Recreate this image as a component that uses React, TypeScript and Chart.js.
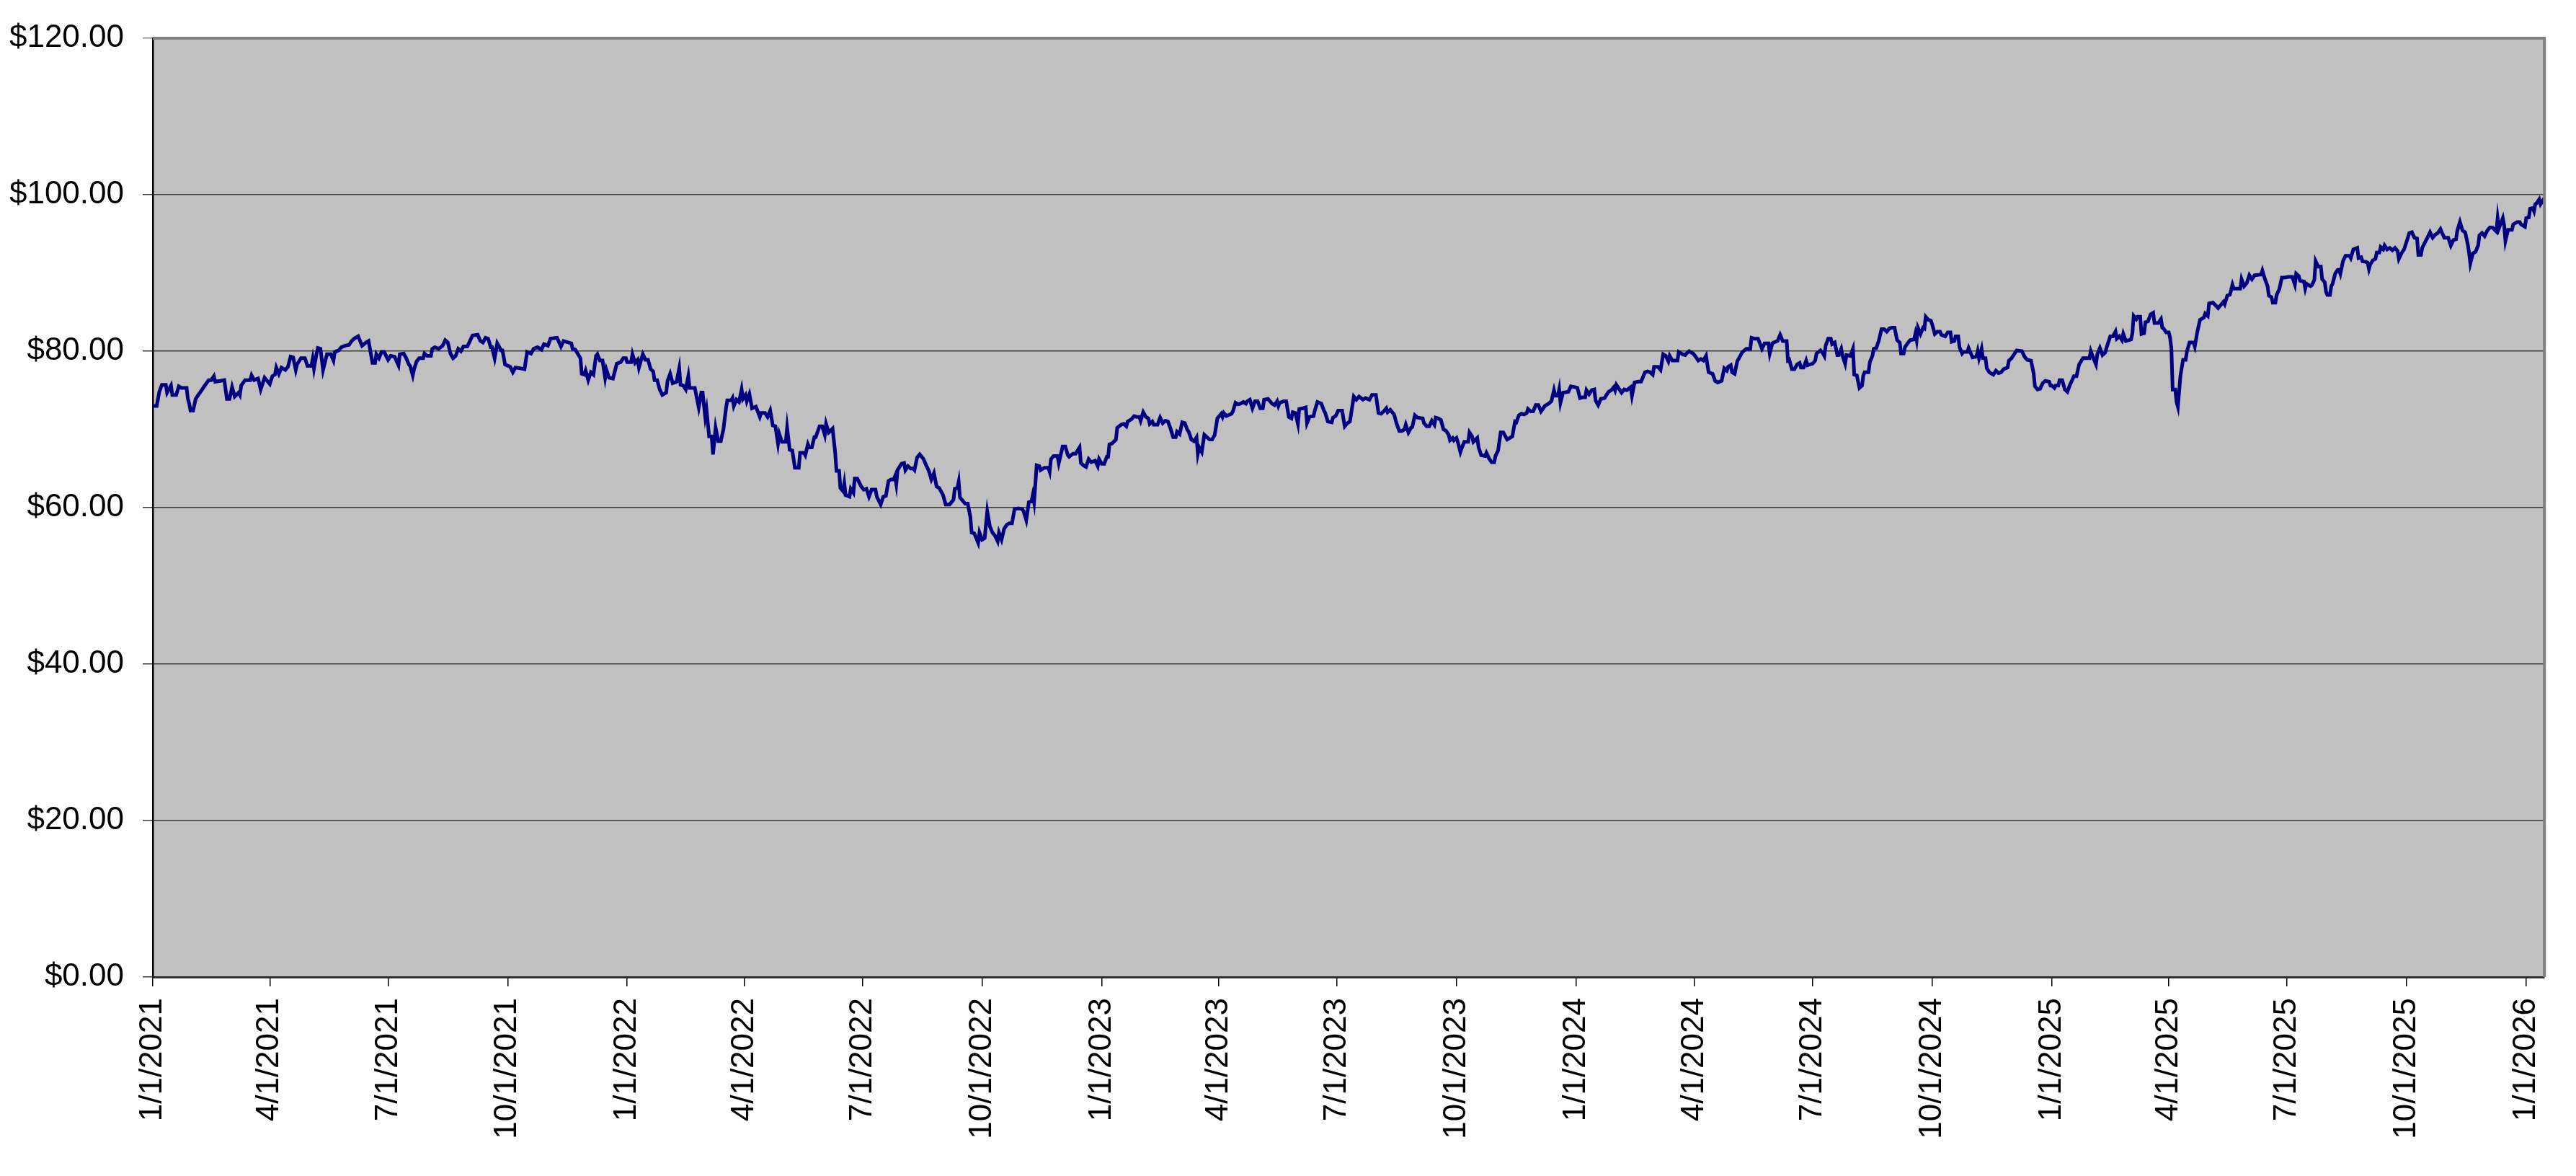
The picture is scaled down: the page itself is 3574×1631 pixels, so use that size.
import React, { useEffect, useRef } from 'react';
import Chart from 'chart.js/auto';

// days counted from 1/1/2021
const startDate = Date.UTC(2021, 0, 1);

const dayOffsets = [
  0, 3, 5, 7, 10, 11, 14, 15, 18, 20,
  22, 26, 27, 28, 29, 31, 33, 35, 38, 40,
  43, 45, 47, 48, 52, 55, 57, 59, 61, 63,
  66, 67, 68, 71, 75, 76, 78, 81, 83, 86,
  88, 90, 92, 94, 95, 97, 99, 102, 104, 106,
  108, 110, 111, 114, 117, 119, 122, 123, 124, 126,
  127, 129, 131, 134, 137, 139, 140, 143, 145, 148,
  151, 153, 155, 158, 161, 164, 166, 169, 171, 172,
  174, 176, 178, 181, 183, 186, 189, 190, 193, 195,
  197, 198, 200, 201, 203, 205, 208, 209, 211, 214,
  215, 217, 220, 223, 225, 227, 229, 231, 233, 235,
  237, 239, 242, 244, 246, 250, 252, 254, 256, 258,
  260, 261, 263, 265, 268, 269, 271, 275, 277, 279,
  283, 286, 288, 291, 293, 296, 299, 301, 304, 306,
  311, 314, 316, 320, 322, 323, 325, 329, 330, 332,
  333, 335, 337, 339, 341, 342, 344, 346, 348, 349,
  351, 354, 357, 360, 362, 364, 365, 368, 369, 371,
  373, 374, 377, 379, 381, 383, 385, 386, 388, 390,
  392, 395, 396, 398, 400, 403, 405, 406, 408, 410,
  412, 413, 417, 420, 422, 423, 425, 426, 428, 430,
  431, 433, 435, 437, 439, 441, 442, 445, 446, 447,
  449, 451, 453, 454, 456, 457, 459, 461, 464, 467,
  468, 471, 473, 475, 477, 479, 481, 482, 484, 487,
  488, 490, 492, 494, 497, 498, 501, 502, 504, 505,
  507, 509, 510, 513, 515, 517, 518, 520, 523, 525,
  526, 528, 529, 531, 532, 533, 536, 537, 539, 540,
  542, 545, 547, 549, 551, 553, 556, 557, 560, 562,
  564, 566, 568, 570, 571, 572, 573, 576, 578, 579,
  581, 583, 585, 586, 588, 590, 593, 595, 597, 599,
  601, 603, 605, 608, 610, 613, 616, 617, 619, 620,
  621, 625, 627, 629, 630, 632, 635, 636, 638, 640,
  642, 644, 646, 648, 650, 651, 653, 655, 657, 659,
  661, 663, 666, 669, 670, 672, 674, 676, 677, 678,
  680, 682, 683, 686, 689, 690, 691, 693, 696, 697,
  698, 700, 702, 704, 705, 708, 710, 713, 714, 716,
  718, 720, 722, 725, 727, 728, 730, 732, 734, 735,
  736, 738, 741, 742, 745, 747, 749, 750, 753, 755,
  757, 759, 760, 762, 764, 766, 767, 769, 770, 773,
  775, 777, 779, 781, 783, 785, 787, 788, 790, 792,
  794, 796, 797, 799, 801, 803, 804, 805, 807, 809,
  811, 813, 815, 817, 819, 822, 823, 824, 826, 830,
  831, 833, 835, 837, 839, 841, 842, 844, 846, 848,
  850, 852, 854, 855, 858, 861, 863, 865, 866, 867,
  870, 872, 874, 876, 877, 879, 881, 882, 885, 887,
  888, 890, 893, 894, 896, 899, 901, 902, 904, 907,
  908, 910, 912, 915, 916, 917, 919, 921, 924, 926,
  928, 931, 933, 936, 938, 941, 943, 945, 947, 949,
  950, 952, 954, 955, 957, 959, 961, 963, 964, 966,
  968, 969, 971, 973, 977, 978, 980, 982, 984, 986,
  987, 989, 991, 993, 995, 997, 998, 1000, 1001, 1003,
  1004, 1006, 1007, 1009, 1012, 1013, 1015, 1016, 1019, 1020,
  1022, 1025, 1026, 1028, 1030, 1032, 1033, 1035, 1037, 1039,
  1042, 1044, 1046, 1048, 1049, 1051, 1053, 1055, 1057, 1058,
  1060, 1062, 1064, 1066, 1068, 1071, 1074, 1076, 1078, 1079,
  1081, 1082, 1083, 1085, 1089, 1091, 1094, 1096, 1098, 1100,
  1102, 1103, 1105, 1107, 1109, 1110, 1112, 1114, 1117, 1118,
  1120, 1122, 1124, 1125, 1126, 1128, 1130, 1132, 1134, 1137,
  1138, 1140, 1143, 1145, 1146, 1148, 1150, 1152, 1154, 1155,
  1158, 1160, 1162, 1164, 1166, 1167, 1169, 1173, 1174, 1177,
  1179, 1180, 1182, 1185, 1187, 1189, 1191, 1193, 1195, 1196,
  1197, 1200, 1202, 1204, 1207, 1209, 1211, 1212, 1214, 1215,
  1217, 1219, 1221, 1223, 1226, 1229, 1230, 1232, 1235, 1238,
  1240, 1243, 1244, 1246, 1247, 1250, 1252, 1254, 1257, 1258,
  1259, 1261, 1263, 1265, 1267, 1268, 1270, 1272, 1273, 1275,
  1277, 1279, 1280, 1283, 1285, 1286, 1287, 1289, 1291, 1292,
  1294, 1296, 1297, 1299, 1300, 1302, 1303, 1306, 1308, 1309,
  1311, 1313, 1315, 1316, 1317, 1320, 1321, 1323, 1324, 1326,
  1328, 1330, 1332, 1334, 1336, 1338, 1340, 1342, 1344, 1345,
  1347, 1348, 1350, 1352, 1355, 1356, 1357, 1358, 1360, 1362,
  1363, 1364, 1366, 1368, 1369, 1371, 1373, 1375, 1376, 1379,
  1381, 1383, 1384, 1386, 1387, 1389, 1390, 1392, 1393, 1396,
  1397, 1398, 1400, 1403, 1404, 1405, 1407, 1408, 1410, 1411,
  1413, 1416, 1418, 1420, 1422, 1424, 1427, 1428, 1430, 1432,
  1434, 1438, 1440, 1442, 1445, 1447, 1448, 1450, 1452, 1454,
  1456, 1459, 1460, 1461, 1463, 1464, 1466, 1467, 1469, 1471,
  1473, 1475, 1478, 1480, 1482, 1485, 1488, 1490, 1491, 1493,
  1495, 1496, 1498, 1500, 1502, 1504, 1506, 1508, 1510, 1511,
  1513, 1515, 1516, 1518, 1520, 1522, 1523, 1524, 1526, 1527,
  1529, 1530, 1532, 1533, 1535, 1537, 1539, 1540, 1543, 1545,
  1546, 1547, 1549, 1551, 1552, 1553, 1554, 1556, 1557, 1558,
  1560, 1562, 1564, 1565, 1567, 1570, 1571, 1573, 1575, 1578,
  1579, 1581, 1582, 1585, 1589, 1591, 1593, 1594, 1596, 1598,
  1600, 1601, 1604, 1606, 1607, 1609, 1611, 1613, 1615, 1617,
  1622, 1623, 1625, 1627, 1628, 1630, 1631, 1633, 1634, 1636,
  1638, 1640, 1643, 1646, 1648, 1649, 1651, 1652, 1655, 1656,
  1657, 1660, 1661, 1663, 1664, 1666, 1668, 1669, 1671, 1672,
  1673, 1675, 1676, 1677, 1679, 1681, 1682, 1683, 1685, 1687,
  1690, 1691, 1693, 1696, 1697, 1699, 1700, 1703, 1704, 1705,
  1706, 1708, 1710, 1711, 1713, 1714, 1716, 1717, 1719, 1721,
  1723, 1725, 1727, 1728, 1730, 1732, 1734, 1736, 1738, 1740,
  1742, 1743, 1745, 1746, 1749, 1750, 1752, 1754, 1756, 1758,
  1760, 1761, 1763, 1766, 1768, 1770, 1772, 1773, 1775, 1777,
  1779, 1781, 1782, 1783, 1785, 1787, 1789, 1790, 1792, 1794,
  1796, 1798, 1800, 1803, 1804, 1805, 1808, 1809, 1810, 1812,
  1815, 1816, 1819, 1821, 1822, 1825, 1826, 1828, 1829, 1831,
  1832, 1833, 1834, 1836, 1837, 1839, 1840,
];

const prices = [
  73.0, 73.0, 74.8, 75.7, 75.7, 74.7, 75.6, 74.4, 74.4, 75.5,
  75.3, 75.3, 73.9, 73.3, 72.4, 72.4, 73.9, 74.4, 75.1, 75.6,
  76.3, 76.3, 76.8, 76.1, 76.2, 76.3, 73.9, 73.9, 75.4, 74.2,
  74.7, 74.4, 75.6, 76.3, 76.3, 76.9, 76.3, 76.5, 75.1, 76.6,
  76.2, 75.8, 76.8, 77.0, 77.9, 77.1, 77.9, 77.6, 78.0, 79.3,
  79.2, 77.6, 78.3, 79.1, 79.1, 78.1, 78.1, 79.0, 77.8, 79.7,
  80.4, 80.3, 77.6, 79.6, 79.6, 78.8, 79.9, 80.1, 80.5, 80.7,
  80.8, 81.3, 81.6, 81.9, 80.7, 81.1, 81.3, 78.5, 78.5, 79.6,
  79.1, 79.9, 79.9, 78.9, 79.4, 79.3, 78.2, 79.6, 79.7, 79.1,
  78.3, 78.1, 76.9, 77.7, 78.7, 79.1, 79.1, 79.7, 79.4, 79.4,
  80.3, 80.5, 80.3, 80.7, 81.4, 81.1, 79.7, 79.1, 79.4, 80.3,
  80.0, 80.6, 80.6, 81.3, 82.0, 82.1, 81.3, 81.1, 81.7, 81.6,
  80.5, 80.5, 79.1, 81.0, 80.1, 80.1, 78.3, 78.0, 77.3, 77.9,
  77.8, 77.7, 79.9, 79.7, 80.3, 80.5, 80.2, 80.9, 80.7, 81.6,
  81.7, 80.6, 81.3, 81.1, 81.0, 80.3, 80.2, 79.1, 77.1, 77.0,
  77.5, 76.3, 77.3, 77.0, 79.4, 79.6, 78.8, 78.8, 76.6, 77.6,
  76.6, 76.5, 78.4, 78.6, 79.1, 79.1, 78.6, 78.6, 79.6, 78.5,
  78.9, 77.9, 79.6, 78.9, 78.9, 77.7, 77.4, 76.3, 76.3, 75.1,
  74.4, 74.7, 76.2, 77.1, 75.9, 76.1, 77.8, 75.7, 75.6, 75.1,
  76.8, 75.3, 75.3, 72.8, 74.7, 74.7, 71.6, 72.5, 69.1, 69.1,
  66.8, 70.2, 68.5, 68.5, 70.0, 72.7, 73.7, 73.7, 74.0, 73.0,
  73.8, 73.5, 75.1, 73.9, 74.4, 73.6, 74.5, 72.7, 72.9, 71.6,
  72.1, 72.1, 71.6, 72.4, 70.5, 70.4, 68.2, 69.4, 68.4, 68.4,
  70.2, 67.4, 67.3, 65.1, 65.1, 67.0, 67.0, 66.7, 68.1, 67.7,
  67.7, 69.0, 69.0, 70.4, 70.4, 69.3, 70.7, 69.6, 70.1, 67.0,
  64.7, 64.7, 62.5, 62.1, 63.1, 61.6, 61.4, 62.4, 61.9, 63.7,
  63.7, 62.7, 62.3, 62.4, 61.4, 62.3, 62.3, 61.4, 60.4, 61.4,
  61.5, 63.4, 63.6, 63.6, 64.0, 63.0, 64.8, 65.6, 65.7, 64.8,
  65.3, 65.0, 65.0, 64.8, 66.4, 66.8, 66.2, 65.4, 64.7, 63.6,
  64.4, 62.7, 62.5, 61.6, 60.4, 60.4, 61.0, 62.4, 62.5, 63.3,
  61.3, 60.5, 60.5, 58.8, 56.8, 56.7, 55.5, 56.8, 55.9, 56.1,
  59.5, 57.6, 56.8, 56.4, 55.7, 56.8, 55.9, 57.3, 57.8, 58.0,
  58.0, 59.8, 59.9, 59.8, 59.5, 58.4, 60.7, 60.8, 61.6, 60.7,
  65.4, 65.3, 64.8, 65.1, 65.1, 64.6, 66.2, 66.6, 66.6, 65.7,
  66.4, 67.8, 67.8, 66.7, 66.5, 66.9, 66.9, 67.7, 65.7, 65.4,
  65.2, 66.2, 65.8, 66.0, 65.3, 66.2, 65.6, 65.6, 66.5, 66.5,
  68.1, 68.2, 68.7, 70.2, 70.6, 70.7, 70.4, 71.0, 71.3, 71.7,
  71.6, 71.6, 71.1, 72.2, 71.6, 71.4, 70.7, 71.0, 70.6, 70.6,
  71.5, 70.8, 71.1, 71.0, 70.1, 69.0, 69.0, 69.7, 69.4, 70.9,
  70.8, 69.9, 69.7, 68.7, 68.5, 69.0, 66.9, 67.7, 67.1, 69.3,
  69.0, 68.7, 68.7, 69.3, 71.4, 72.0, 71.6, 72.1, 71.7, 72.0,
  72.3, 73.4, 73.2, 73.3, 73.5, 73.3, 73.6, 73.8, 72.7, 73.6,
  73.6, 72.7, 72.7, 73.8, 73.9, 73.3, 73.1, 73.6, 73.0, 73.4,
  73.6, 73.6, 71.6, 71.4, 72.2, 72.1, 70.7, 72.6, 72.7, 72.8,
  70.8, 71.6, 71.7, 72.4, 73.5, 73.3, 72.4, 72.1, 71.0, 70.9,
  71.5, 71.7, 72.4, 72.4, 71.4, 70.4, 70.8, 71.0, 74.2, 73.8,
  74.2, 73.8, 74.0, 73.8, 74.4, 74.4, 72.1, 72.0, 72.3, 72.7,
  72.2, 72.5, 72.1, 71.9, 70.7, 69.8, 69.8, 70.0, 70.6, 69.6,
  70.2, 70.3, 71.8, 71.5, 71.4, 70.8, 70.4, 70.4, 71.1, 70.6,
  71.5, 71.4, 71.2, 70.0, 69.8, 69.3, 68.6, 68.9, 68.6, 68.9,
  68.4, 67.1, 67.6, 68.4, 68.4, 69.6, 69.1, 68.4, 68.9, 67.7,
  66.7, 66.6, 67.0, 66.3, 65.8, 65.8, 66.6, 67.3, 69.6, 69.6,
  68.7, 68.9, 69.1, 71.0, 70.9, 71.8, 72.0, 71.9, 72.1, 72.6,
  72.3, 72.3, 73.1, 73.1, 72.3, 73.0, 73.3, 73.6, 75.0, 74.3,
  74.3, 75.1, 73.4, 74.7, 74.8, 75.5, 75.4, 75.3, 74.0, 74.1,
  74.1, 75.0, 74.5, 75.0, 75.1, 73.7, 73.1, 73.9, 74.0, 74.3,
  74.8, 75.0, 75.4, 75.0, 75.7, 75.2, 74.7, 75.1, 75.0, 75.4,
  74.3, 76.0, 76.1, 76.1, 76.5, 77.3, 77.4, 77.3, 77.0, 78.0,
  78.0, 77.6, 79.6, 79.4, 78.7, 79.4, 78.8, 78.8, 79.9, 79.6,
  79.5, 79.7, 80.0, 79.7, 79.3, 78.8, 79.0, 78.8, 79.4, 78.3,
  77.3, 77.1, 76.2, 76.0, 76.2, 77.8, 77.5, 78.0, 78.2, 77.3,
  77.1, 78.7, 79.3, 79.9, 80.3, 80.3, 81.7, 81.6, 81.6, 80.3,
  81.0, 81.0, 79.7, 81.0, 81.1, 81.3, 82.1, 81.3, 81.3, 78.8,
  78.9, 77.7, 77.7, 78.3, 78.5, 77.9, 77.9, 78.8, 78.2, 78.3,
  78.4, 78.8, 79.7, 80.1, 79.7, 79.4, 80.7, 81.6, 81.6, 80.9,
  81.1, 79.5, 79.5, 80.3, 79.4, 78.4, 79.5, 79.4, 80.3, 77.0,
  76.9, 75.3, 75.6, 76.9, 77.3, 77.3, 78.6, 79.4, 80.3, 80.4,
  81.4, 82.8, 82.8, 82.5, 82.9, 83.0, 83.0, 81.4, 81.1, 79.7,
  79.7, 80.5, 81.0, 81.4, 81.5, 82.2, 81.4, 83.0, 82.2, 83.0,
  82.9, 84.4, 84.0, 83.9, 83.4, 82.2, 82.5, 82.5, 82.1, 81.9,
  82.4, 82.4, 81.2, 81.3, 81.9, 81.9, 80.5, 79.7, 79.9, 79.9,
  80.4, 80.0, 79.2, 79.3, 80.0, 79.1, 80.3, 79.1, 79.1, 77.8,
  77.3, 77.0, 77.5, 77.2, 77.3, 77.7, 77.9, 78.8, 79.1, 79.6,
  80.1, 80.0, 79.3, 78.9, 78.8, 77.2, 75.5, 75.1, 75.2, 75.9,
  76.2, 76.1, 75.6, 75.6, 75.3, 75.6, 75.6, 76.3, 76.3, 75.1,
  74.8, 75.7, 76.8, 76.8, 78.3, 79.1, 79.1, 79.1, 80.0, 79.1,
  78.3, 79.6, 80.4, 79.5, 79.8, 80.9, 81.9, 81.9, 82.5, 81.6,
  81.9, 81.4, 82.2, 81.3, 81.4, 81.5, 82.3, 84.5, 84.1, 84.4,
  84.4, 82.2, 82.3, 83.7, 83.8, 84.7, 84.9, 83.6, 83.6, 84.1,
  83.0, 82.9, 82.4, 82.4, 81.7, 80.3, 75.1, 75.1, 73.5, 72.9,
  76.9, 78.9, 78.9, 80.0, 81.1, 81.1, 80.6, 82.5, 84.0, 84.3,
  84.8, 84.5, 86.1, 86.2, 85.5, 85.9, 86.3, 86.0, 87.1, 87.2,
  88.5, 88.0, 88.0, 88.0, 89.2, 88.3, 88.7, 89.7, 89.2, 89.7,
  89.8, 90.3, 89.2, 88.3, 87.1, 86.9, 86.2, 86.2, 87.2, 87.9,
  89.4, 89.4, 89.5, 89.5, 88.5, 89.9, 89.6, 89.0, 88.9, 88.0,
  88.6, 88.3, 88.4, 89.1, 91.5, 90.8, 90.8, 89.2, 88.8, 87.6,
  87.2, 87.2, 88.3, 88.6, 89.9, 90.4, 90.4, 89.9, 91.5, 92.2,
  92.2, 91.9, 93.0, 93.2, 91.9, 92.0, 91.5, 91.4, 91.3, 90.5,
  91.1, 91.6, 91.8, 92.6, 92.6, 93.3, 93.0, 93.5, 93.0, 93.2,
  92.9, 93.2, 92.8, 91.8, 92.5, 93.0, 94.0, 95.1, 95.2, 94.5,
  94.4, 92.3, 92.3, 93.2, 94.2, 94.5, 95.2, 94.5, 94.9, 95.1,
  95.6, 95.2, 94.5, 94.5, 93.5, 94.2, 94.3, 95.4, 96.5, 95.4,
  95.2, 93.7, 92.6, 91.2, 92.5, 92.7, 93.5, 94.8, 95.1, 94.7,
  95.4, 95.8, 95.8, 95.3, 97.0, 95.7, 97.0, 96.1, 94.1, 95.5,
  95.5, 96.2, 96.5, 96.5, 96.2, 95.9, 97.0, 97.1, 98.2, 98.3,
  97.9, 98.8, 98.9, 99.4, 98.8, 99.3, 99.6,
];

const tickLabels = [
  '1/1/2021', '4/1/2021', '7/1/2021', '10/1/2021',
  '1/1/2022', '4/1/2022', '7/1/2022', '10/1/2022',
  '1/1/2023', '4/1/2023', '7/1/2023', '10/1/2023',
  '1/1/2024', '4/1/2024', '7/1/2024', '10/1/2024',
  '1/1/2025', '4/1/2025', '7/1/2025', '10/1/2025',
  '1/1/2026',
];

const lastDay = 1840;

function dayOf(label: string) {
  const [m, d, y] = label.split('/').map(Number);
  return Math.round((Date.UTC(y, m - 1, d) - startDate) / 86400000);
}

const tickDays = tickLabels.map(dayOf);
const labelFont = { family: '"Liberation Sans", Arial, sans-serif', size: 44 };

// grey plot area plus its grey top/right frame
const plotFrame = {
  id: 'plotFrame',
  beforeDraw(chart: any) {
    const { ctx, chartArea: a } = chart;
    ctx.save();
    ctx.fillStyle = '#ffffff';
    ctx.fillRect(0, 0, chart.width, chart.height);
    ctx.fillStyle = '#c0c0c0';
    ctx.fillRect(a.left, a.top, a.right - a.left, a.bottom - a.top);
    ctx.restore();
  },
  afterDraw(chart: any) {
    const { ctx, chartArea: a } = chart;
    ctx.save();
    ctx.strokeStyle = '#808080';
    ctx.lineWidth = 4;
    ctx.beginPath();
    ctx.moveTo(a.left, a.top);
    ctx.lineTo(a.right, a.top);
    ctx.lineTo(a.right, a.bottom);
    ctx.stroke();
    ctx.restore();
  },
};

export default function App() {
  const canvasRef = useRef<HTMLCanvasElement | null>(null);
  const chartRef = useRef<Chart | null>(null);

  useEffect(() => {
    const canvas = canvasRef.current;
    if (!canvas) return;

    chartRef.current = new Chart(canvas, {
      type: 'line',
      data: {
        datasets: [
          {
            data: dayOffsets.map((d, i) => ({ x: d, y: prices[i] })),
            borderColor: '#000080',
            borderWidth: 5,
            pointRadius: 0,
            tension: 0,
            fill: false,
          },
        ],
      },
      options: {
        animation: false,
        responsive: true,
        maintainAspectRatio: false,
        layout: { padding: { top: 53, right: 33, left: 0, bottom: 0 } },
        plugins: { legend: { display: false }, tooltip: { enabled: false } },
        scales: {
          x: {
            type: 'linear',
            min: 0,
            max: lastDay,
            afterBuildTicks: (scale: any) => {
              scale.ticks = tickDays.map((v) => ({ value: v }));
            },
            afterFit: (scale: any) => {
              scale.height = 276;
            },
            ticks: {
              autoSkip: false,
              minRotation: 90,
              maxRotation: 90,
              padding: 16,
              color: '#000',
              font: labelFont,
              callback: (_v: any, i: number) => tickLabels[i],
            },
            grid: {
              drawOnChartArea: false,
              drawTicks: true,
              tickLength: 13,
              color: '#000',
              lineWidth: 1.5,
            },
            border: { color: '#303030', width: 3 },
          },
          y: {
            min: 0,
            max: 120,
            afterFit: (scale: any) => {
              scale.width = 212;
            },
            ticks: {
              stepSize: 20,
              padding: 26,
              color: '#000',
              font: labelFont,
              callback: (v: any) => '$' + Number(v).toFixed(2),
            },
            grid: {
              tickLength: 14,
              color: (c: any) => (c.tick && c.tick.value === 120 ? '#808080' : '#3a3a3a'),
              lineWidth: 1.5,
            },
            border: { color: '#000', width: 2.5 },
          },
        },
      },
      plugins: [plotFrame],
    });

    return () => {
      chartRef.current?.destroy();
      chartRef.current = null;
    };
  }, []);

  return (
    <div style={{ position: 'fixed', inset: 0, background: '#fff' }}>
      <canvas ref={canvasRef} />
    </div>
  );
}
